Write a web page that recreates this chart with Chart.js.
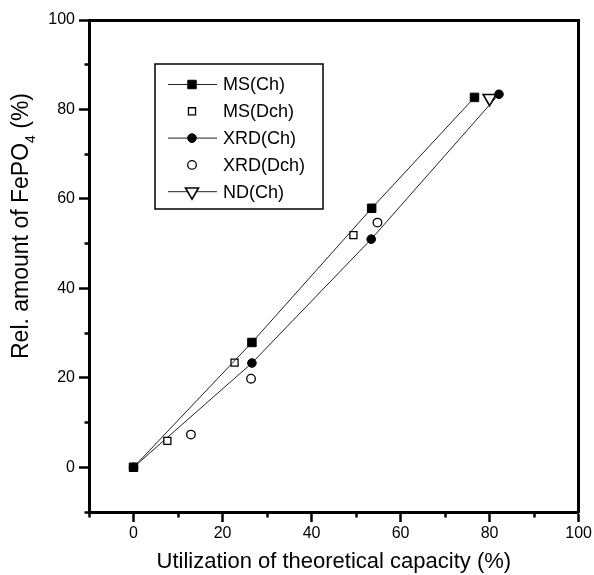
<!DOCTYPE html>
<html>
<head>
<meta charset="utf-8">
<script src="https://cdn.jsdelivr.net/npm/chart.js@4.4.1/dist/chart.umd.min.js"></script>
<style>
  html, body { margin: 0; padding: 0; background: #fff; }
  #wrap { width: 594px; height: 575px; }
</style>
</head>
<body>
<div id="wrap"><canvas id="chart" width="594" height="575"></canvas></div>
<script>
const X_TITLE = 'Utilization of theoretical capacity (%)';
const Y_TITLE_MAIN = 'Rel. amount of FePO';
const Y_TITLE_SUB = '4';
const Y_TITLE_END = ' (%)';

const SERIES_NAMES = ['MS(Ch)', 'MS(Dch)', 'XRD(Ch)', 'XRD(Dch)', 'ND(Ch)'];

// values
const msChX = [0, 26.6, 53.5, 76.6];
const msChY = [0, 27.9, 57.9, 82.7];
const msDchX = [7.6, 22.7, 49.4];
const msDchY = [5.9, 23.4, 51.9];
const xrdChX = [0, 26.6, 53.4, 82.1];
const xrdChY = [0, 23.3, 51.0, 83.4];
const xrdDchX = [12.9, 26.4, 54.8];
const xrdDchY = [7.3, 19.8, 54.7];
const ndChX = [80.0];
const ndChY = [82.5];

const AXIS_MIN = -10;
const AXIS_MAX = 100;

const FONT = "'Liberation Sans', Arial, Helvetica, sans-serif";

function pts(xs, ys) {
  return xs.map((x, i) => ({ x: x, y: ys[i] }));
}

function isMinor(c) {
  return c.tick && c.tick.value % 20 !== 0;
}

function tickLabel(v) {
  return v >= 0 && v % 20 === 0 ? String(v) : '';
}

const legendBox = { left: 155, top: 64, right: 323, bottom: 209 };

const boxLegend = {
  id: 'boxLegend',
  afterDraw(chart) {
    const ctx = chart.ctx;
    ctx.save();
    ctx.fillStyle = '#fff';
    ctx.fillRect(legendBox.left, legendBox.top, legendBox.right - legendBox.left, legendBox.bottom - legendBox.top);
    ctx.lineWidth = 1.5;
    ctx.strokeStyle = '#000';
    ctx.strokeRect(legendBox.left, legendBox.top, legendBox.right - legendBox.left, legendBox.bottom - legendBox.top);
    ctx.font = '18px ' + FONT;
    ctx.textBaseline = 'middle';
    ctx.textAlign = 'left';
    chart.data.datasets.forEach((ds, i) => {
      const y = 84.5 + i * 26.8;
      if (ds.showLine) {
        ctx.beginPath();
        ctx.lineWidth = 1;
        ctx.strokeStyle = '#222';
        ctx.moveTo(168, y);
        ctx.lineTo(217, y);
        ctx.stroke();
      }
      ctx.fillStyle = ds.pointBackgroundColor;
      ctx.strokeStyle = ds.pointBorderColor;
      ctx.lineWidth = ds.pointBorderWidth;
      Chart.helpers.drawPoint(ctx, {
        pointStyle: ds.pointStyle,
        rotation: ds.pointRotation || 0,
        radius: ds.pointRadius,
        borderWidth: ds.pointBorderWidth
      }, 192, y);
      ctx.fillStyle = '#000';
      ctx.fillText(ds.label, 223, y + 1);
    });
    ctx.restore();
  }
};

// y title with a real subscript
const yTitle = {
  id: 'yTitle',
  afterDraw(chart) {
    const ctx = chart.ctx;
    ctx.save();
    ctx.translate(28, 226);
    ctx.rotate(-Math.PI / 2);
    ctx.fillStyle = '#000';
    ctx.textBaseline = 'alphabetic';
    ctx.textAlign = 'left';
    const big = '23px ' + FONT;
    const small = '14px ' + FONT;
    ctx.font = big;
    const w1 = ctx.measureText(Y_TITLE_MAIN).width;
    const w3 = ctx.measureText(Y_TITLE_END).width;
    ctx.font = small;
    const w2 = ctx.measureText(Y_TITLE_SUB).width;
    let x = -(w1 + w2 + w3) / 2;
    ctx.font = big;
    ctx.fillText(Y_TITLE_MAIN, x, 0);
    x += w1;
    ctx.font = small;
    ctx.fillText(Y_TITLE_SUB, x, 7);
    x += w2;
    ctx.font = big;
    ctx.fillText(Y_TITLE_END, x, 0);
    ctx.restore();
  }
};

function mainAxis(extra) {
  return Object.assign({
    type: 'linear',
    min: AXIS_MIN,
    max: AXIS_MAX,
    ticks: {
      stepSize: 10,
      autoSkip: false,
      maxRotation: 0,
      color: '#000',
      font: { family: FONT, size: 16 },
      callback: tickLabel
    },
    grid: {
      drawOnChartArea: false,
      tickLength: 10,
      tickColor: '#000',
      tickWidth: 2.5
    },
    border: { display: true, color: '#000', width: 3 }
  }, extra);
}

function frameAxis(position, afterFit) {
  return {
    type: 'linear',
    position: position,
    min: AXIS_MIN,
    max: AXIS_MAX,
    ticks: { display: false },
    grid: { display: false, drawTicks: false },
    border: { display: true, color: '#000', width: 3 },
    afterFit: afterFit
  };
}

const xAxis = mainAxis({
  position: 'bottom',
  title: {
    display: true,
    text: X_TITLE,
    color: '#000',
    font: { family: FONT, size: 22 },
    padding: { top: 0, bottom: 0 }
  },
  afterFit: s => { s.height = 63; }
});
xAxis.ticks.padding = 2;
xAxis.grid.tickBorderDash = c => isMinor(c) ? [3.5, 30] : [];
xAxis.grid.tickBorderDashOffset = 0;

const yAxis = mainAxis({
  position: 'left',
  afterFit: s => { s.width = 89; }
});
yAxis.ticks.padding = 4;
yAxis.grid.tickBorderDash = c => isMinor(c) ? [3.5, 30] : [];
yAxis.grid.tickBorderDashOffset = c => isMinor(c) ? 28 : 0;

new Chart(document.getElementById('chart'), {
  type: 'scatter',
  data: {
    datasets: [
      {
        label: SERIES_NAMES[0], data: pts(msChX, msChY), showLine: true,
        borderColor: '#222', borderWidth: 1,
        pointStyle: 'rect', pointRadius: 6, pointHoverRadius: 6,
        pointBackgroundColor: '#000', pointBorderColor: '#000', pointBorderWidth: 1
      },
      {
        label: SERIES_NAMES[1], data: pts(msDchX, msDchY), showLine: false,
        borderColor: '#000',
        pointStyle: 'rect', pointRadius: 5, pointHoverRadius: 5,
        pointBackgroundColor: '#fff', pointBorderColor: '#000', pointBorderWidth: 1.3
      },
      {
        label: SERIES_NAMES[2], data: pts(xrdChX, xrdChY), showLine: true,
        borderColor: '#222', borderWidth: 1,
        pointStyle: 'circle', pointRadius: 4.3, pointHoverRadius: 4.3,
        pointBackgroundColor: '#000', pointBorderColor: '#000', pointBorderWidth: 1
      },
      {
        label: SERIES_NAMES[3], data: pts(xrdDchX, xrdDchY), showLine: false,
        borderColor: '#000',
        pointStyle: 'circle', pointRadius: 4.3, pointHoverRadius: 4.3,
        pointBackgroundColor: '#fff', pointBorderColor: '#000', pointBorderWidth: 1.3
      },
      {
        label: SERIES_NAMES[4], data: pts(ndChX, ndChY), showLine: true,
        borderColor: '#222', borderWidth: 1,
        pointStyle: 'triangle', pointRotation: 180, pointRadius: 7.5, pointHoverRadius: 7.5,
        pointBackgroundColor: '#fff', pointBorderColor: '#000', pointBorderWidth: 1.6
      }
    ]
  },
  options: {
    responsive: false,
    devicePixelRatio: 1,
    animation: false,
    layout: { padding: { top: 20, right: 15, left: 0, bottom: 0 } },
    plugins: {
      legend: { display: false },
      tooltip: { enabled: false }
    },
    scales: {
      x: xAxis,
      y: yAxis,
      xTop: frameAxis('top', s => { s.height = 0; }),
      yRight: frameAxis('right', s => { s.width = 0; })
    }
  },
  plugins: [boxLegend, yTitle]
});
</script>
</body>
</html>
